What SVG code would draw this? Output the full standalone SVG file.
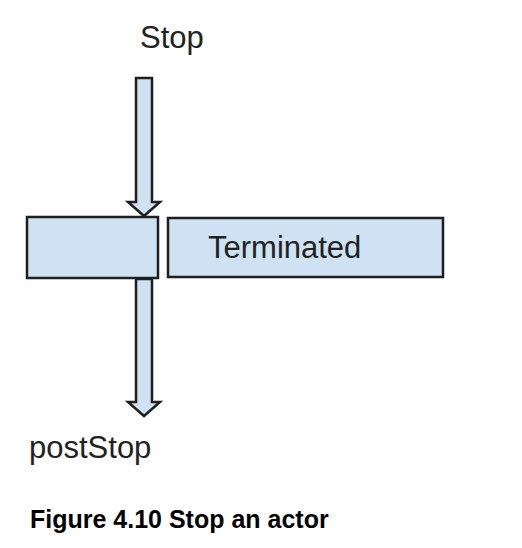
<svg xmlns="http://www.w3.org/2000/svg" width="522" height="548" viewBox="0 0 522 548">
<style>
.box{fill:#cfe2f3;stroke:#1f1f1f;stroke-width:2.5}
.arrow{fill:#cfe2f3;stroke:#1f1f1f;stroke-width:2.5;stroke-linejoin:miter}
.lbl{font-family:"Liberation Sans",Arial,sans-serif;font-size:31px;fill:#222}
.cap{font-family:"Liberation Sans",Arial,sans-serif;font-size:25px;font-weight:bold;fill:#000}
</style>
<rect width="522" height="548" fill="#fff"/>
<g id="connectors">
<polygon class="arrow" points="136,78 152,78 152,202 160,202 144,216 128,202 136,202"/>
<polygon class="arrow" points="136,279 152,279 152,402 160,402 144,416 128,402 136,402"/>
</g>
<g id="node-active">
<rect class="box" x="27" y="217" width="131" height="61"/>
</g>
<g id="node-terminated">
<rect class="box" x="168" y="218" width="275" height="59"/>
<text class="lbl" x="208" y="258">Terminated</text>
</g>
<g id="label-stop">
<text class="lbl" x="140" y="48">Stop</text>
</g>
<g id="label-poststop">
<text class="lbl" x="29" y="458">postStop</text>
</g>
<g id="caption">
<text class="cap" x="30" y="528">Figure 4.10 Stop an actor</text>
</g>
</svg>
